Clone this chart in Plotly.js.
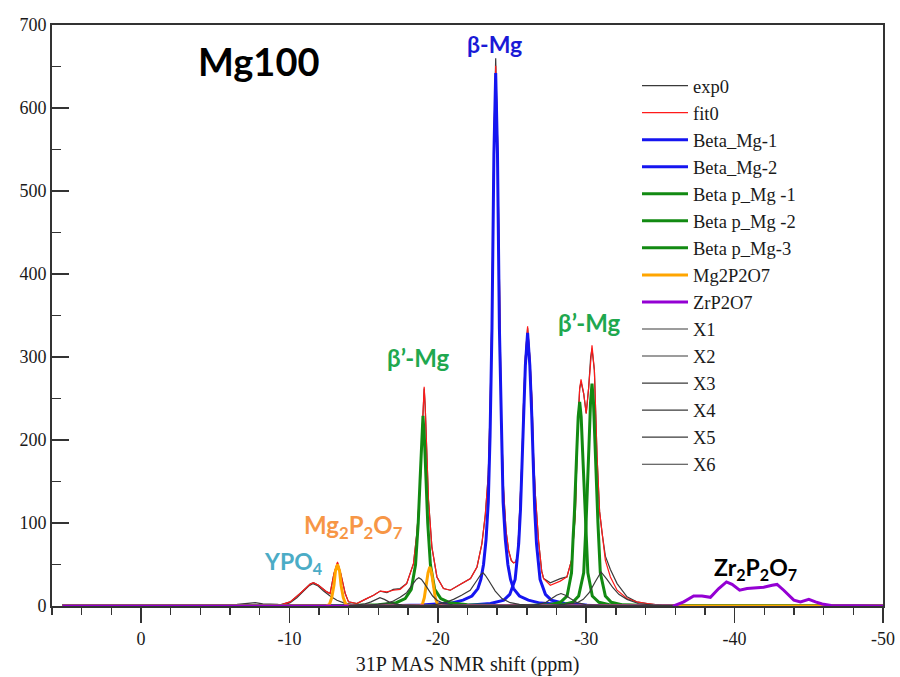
<!DOCTYPE html>
<html><head><meta charset="utf-8">
<script src="https://cdn.plot.ly/plotly-3.0.1.min.js"></script>
<style>html,body{margin:0;padding:0;background:#fff}</style>
</head><body><div id="chart" style="width:900px;height:677px"></div>
<script>
// ---- data: [ppm, intensity] pairs ----
const exp0Pts = [[5.3,0],[-6.3,0],[-6.5,2],[-7.0,2.5],[-7.4,3],[-7.7,4],[-8.2,2.5],[-8.8,2.5],[-9.2,2],[-9.37,1.5],[-10.05,5],[-10.72,15],[-11.4,26.5],[-11.62,28],[-11.96,25],[-12.52,17],[-12.74,15],[-13.0,39],[-13.24,52],[-13.46,39],[-13.76,15],[-13.98,5],[-14.54,3],[-15.1,8],[-15.67,13],[-16.12,18],[-16.57,16],[-17.0,20],[-17.46,21],[-17.9,27],[-18.36,51],[-18.59,88],[-18.81,144],[-18.92,200],[-19.0,232],[-19.08,262],[-19.15,240],[-19.22,196],[-19.37,128],[-19.6,71],[-19.94,35],[-20.38,21],[-20.84,19],[-21.5,26],[-22.2,33],[-22.64,47],[-22.97,75],[-23.2,110],[-23.4,158],[-23.52,235],[-23.65,355],[-23.78,560],[-23.9,660],[-24.02,565],[-24.15,355],[-24.28,225],[-24.43,140],[-24.6,90],[-24.77,67],[-24.95,55],[-25.1,52],[-25.25,53],[-25.38,61],[-25.57,125],[-25.67,175],[-25.77,240],[-25.9,300],[-26.05,335],[-26.2,300],[-26.35,245],[-26.45,180],[-26.57,135],[-26.79,78],[-27.0,42],[-27.13,33],[-27.58,28],[-28.25,33],[-28.7,35],[-29.04,57],[-29.27,112],[-29.42,212],[-29.56,262],[-29.65,270],[-29.83,256],[-30.0,232],[-30.16,262],[-30.3,300],[-30.39,310],[-30.55,284],[-30.73,180],[-30.9,114],[-31.07,88],[-31.29,60],[-31.63,44],[-32.08,27],[-32.75,11],[-33.4,5],[-34.1,3],[-34.8,1.5],[-35.5,0],[-50,0]];
const fit0Pts = [[5.3,0],[-9.0,0],[-9.37,1],[-10.05,5],[-10.72,15],[-11.4,26.5],[-11.62,28],[-11.96,25],[-12.52,17],[-12.74,15],[-13.0,39],[-13.24,53],[-13.46,39],[-13.76,15],[-13.98,5],[-14.54,3],[-15.1,8],[-15.67,13],[-16.12,18],[-16.57,17],[-17.0,19],[-17.46,20],[-17.9,27],[-18.36,51],[-18.59,88],[-18.81,144],[-18.92,200],[-19.0,232],[-19.08,264],[-19.15,240],[-19.22,196],[-19.37,128],[-19.6,71],[-19.94,35],[-20.38,21],[-20.84,19],[-21.5,26],[-22.2,33],[-22.64,47],[-22.97,75],[-23.2,110],[-23.4,158],[-23.52,235],[-23.65,355],[-23.78,560],[-23.9,651],[-24.02,565],[-24.15,355],[-24.28,225],[-24.43,140],[-24.6,90],[-24.77,67],[-24.95,55],[-25.1,52],[-25.25,53],[-25.38,61],[-25.57,125],[-25.67,175],[-25.77,240],[-25.9,300],[-26.05,337],[-26.2,300],[-26.35,245],[-26.45,180],[-26.57,135],[-26.79,78],[-27.0,42],[-27.13,33],[-27.58,25],[-28.25,30],[-28.7,35],[-29.04,57],[-29.27,112],[-29.42,212],[-29.56,262],[-29.65,273],[-29.83,256],[-30.0,232],[-30.16,262],[-30.3,300],[-30.39,314],[-30.55,284],[-30.73,180],[-30.9,114],[-31.07,88],[-31.29,55],[-31.63,35],[-32.08,19],[-32.75,9],[-33.4,5],[-34.1,3],[-34.8,1.5],[-35.5,0],[-50,0]];
const betaMg1Pts = [[5.3,0],[-16,0],[-18.9,1.2],[-20.9,3.5],[-21.7,7],[-22.3,12],[-22.7,21],[-22.9,32],[-23.08,50],[-23.25,80],[-23.4,125],[-23.52,205],[-23.65,335],[-23.78,545],[-23.9,642],[-24.02,545],[-24.15,335],[-24.28,205],[-24.4,125],[-24.55,80],[-24.72,50],[-24.9,32],[-25.1,21],[-25.5,12],[-26.1,7],[-26.9,3.5],[-28.9,1.2],[-32,0],[-50,0]];
const betaMg2Pts = [[5.3,0],[-19,0],[-22.05,1],[-23.55,3],[-24.45,7],[-24.85,14],[-25.21,32],[-25.45,75],[-25.57,116],[-25.66,165],[-25.77,230],[-25.9,290],[-26.05,329],[-26.2,290],[-26.33,230],[-26.44,165],[-26.53,116],[-26.65,75],[-26.89,32],[-27.25,14],[-27.65,7],[-28.55,3],[-30.05,1],[-33,0],[-50,0]];
const betaPMg1Pts = [[5.3,0],[-12,0],[-14,0.5],[-16,1.5],[-17.2,4],[-17.8,9],[-18.21,20],[-18.5,50],[-18.68,100],[-18.8,150],[-18.9,200],[-19.0,229],[-19.1,200],[-19.2,150],[-19.32,100],[-19.5,50],[-19.79,20],[-20.2,9],[-20.8,4],[-22,1.5],[-24,0.5],[-26,0],[-50,0]];
const betaPMg2Pts = [[5.3,0],[-24,0],[-26.06,0.5],[-27.56,1.5],[-28.26,4.5],[-28.71,12],[-29.01,40],[-29.11,80],[-29.2,110],[-29.36,185],[-29.46,228],[-29.56,246],[-29.66,228],[-29.76,185],[-29.92,110],[-30.01,80],[-30.11,40],[-30.41,12],[-30.86,4.5],[-31.56,1.5],[-33.06,0.5],[-35,0],[-50,0]];
const betaPMg3Pts = [[5.3,0],[-25,0],[-26.89,0.5],[-28.39,1.5],[-29.09,4.5],[-29.49,12],[-29.83,40],[-29.99,100],[-30.09,140],[-30.19,195],[-30.29,245],[-30.39,268],[-30.49,245],[-30.59,195],[-30.69,140],[-30.79,100],[-30.95,40],[-31.29,12],[-31.69,4.5],[-32.39,1.5],[-33.89,0.5],[-36,0],[-50,0]];
const mg2p2o7Pts = [[5.3,0],[-12.45,0],[-12.7,2],[-12.85,10],[-13.0,25],[-13.1,42],[-13.24,50],[-13.38,42],[-13.48,25],[-13.63,10],[-13.8,2],[-14.1,0],[-18.8,0],[-18.96,2],[-19.09,10],[-19.21,24],[-19.34,40],[-19.46,47],[-19.58,40],[-19.71,24],[-19.83,10],[-19.98,2],[-20.3,0],[-50,0]];
const zrp2o7Pts = [[5.3,0],[-35.9,0],[-36.57,5],[-37.24,12],[-37.8,12],[-38.37,10.5],[-38.93,21],[-39.45,29],[-39.83,26],[-40.34,19],[-40.84,21],[-41.96,22.5],[-42.53,25],[-42.86,26],[-43.31,19],[-43.99,7],[-44.44,5],[-45.0,8],[-45.45,5],[-45.9,2.4],[-46.5,0.5],[-50,0]];
const x1Pts = [[-9.2,0],[-9.6,1],[-10.05,4],[-10.5,10],[-10.9,17],[-11.3,24],[-11.6,27],[-11.9,24.5],[-12.3,18],[-12.74,12],[-13.2,7],[-13.7,3.5],[-14.5,1.5],[-15.5,0.5],[-16.5,0]];
const x2Pts = [[-14,0],[-14.6,1.2],[-15.1,2.5],[-15.5,5],[-15.8,8],[-16.1,10],[-16.4,8],[-16.7,5],[-17.1,2.5],[-17.6,1.2],[-18.6,0.5],[-20,0],[-35.8,0]];
const x3Pts = [[-14,0],[-15,0.5],[-16.5,3],[-17.0,6],[-17.46,10.5],[-17.9,16],[-18.3,26],[-18.55,32],[-18.72,34],[-18.9,32],[-19.1,27],[-19.37,19],[-19.65,12],[-19.94,7],[-20.4,3],[-21,1.5],[-22,0.5],[-23.5,0],[-35.8,0]];
const x4Pts = [[-14,0],[-19.5,0.5],[-20.5,4],[-21.06,8],[-21.6,13],[-22.18,19],[-22.64,31],[-22.9,38],[-23.05,40],[-23.2,37],[-23.42,31],[-23.87,18],[-24.32,9],[-24.88,4],[-25.5,2],[-26.5,0.5],[-28,0],[-35.8,0]];
const x5Pts = [[-14,0],[-25.5,0.3],[-26.8,2],[-27.3,4.5],[-27.6,8],[-28.0,13],[-28.3,15],[-28.6,13],[-28.93,9],[-29.4,4],[-30,1.5],[-31,0.5],[-32.5,0],[-35.8,0]];
const x6Pts = [[-14,0],[-27.5,0.5],[-28.5,2],[-29.4,4],[-29.8,8],[-30.2,16],[-30.6,29],[-31.0,41],[-31.4,32],[-31.8,22],[-32.2,14],[-32.75,8],[-33.5,3],[-34.5,1],[-35.8,0]];

const xTickVals = [0, -10, -20, -30, -40, -50];
const xTickText = ['0', '-10', '-20', '-30', '-40', '-50'];
const yTickVals = [0, 100, 200, 300, 400, 500, 600, 700];
const yTickText = ['0', '100', '200', '300', '400', '500', '600', '700'];

// ---- traces (draw order), legend order via legendrank ----
function tr(name, pts, color, width, rank) {
  return {type:'scatter', mode:'lines', name:name,
    x: pts.map(p=>p[0]), y: pts.map(p=>p[1]),
    line:{color:color, width:width}, legendrank:rank, hoverinfo:'skip'};
}
const traces = [
  tr('exp0', exp0Pts, '#3a3a3a', 1.2, 1),
  tr('X1', x1Pts, '#3a3a3a', 1.2, 10),
  tr('fit0', fit0Pts, '#ff1a1a', 1.2, 2),
  tr('Beta_Mg-1', betaMg1Pts, '#1515f0', 3, 3),
  tr('Beta_Mg-2', betaMg2Pts, '#1515f0', 3, 4),
  tr('Beta p_Mg -1', betaPMg1Pts, '#128a12', 3, 5),
  tr('Beta p_Mg -2', betaPMg2Pts, '#128a12', 3, 6),
  tr('Beta p_Mg-3', betaPMg3Pts, '#128a12', 3, 7),
  tr('Mg2P2O7', mg2p2o7Pts, '#ffa500', 3, 8),
  tr('ZrP2O7', zrp2o7Pts, '#9400d3', 3, 9),
  tr('X2', x2Pts, '#3a3a3a', 1.2, 11),
  tr('X3', x3Pts, '#3a3a3a', 1.2, 12),
  tr('X4', x4Pts, '#3a3a3a', 1.2, 13),
  tr('X5', x5Pts, '#3a3a3a', 1.2, 14),
  tr('X6', x6Pts, '#3a3a3a', 1.2, 15)
];

const W = 900, H = 677, L = 52, R = 17, T = 25, B = 71;
const pw = W - L - R, ph = H - T - B;
function px(xp){ return (xp - L) / pw; }
function py(yp){ return (H - B - yp) / ph; }
const boldFont = 'Lato, "Open Sans", sans-serif';
const serif = '"Liberation Serif", "DejaVu Serif", serif';
function ann(text, xp, yp, size, color){
  return {text:text, xref:'paper', yref:'paper', x:px(xp), y:py(yp), xanchor:'center', yanchor:'middle',
    showarrow:false, font:{family:boldFont, size:size, color:color, weight:700}};
}

const layout = {
  width: W, height: H,
  margin: {l:L, r:R, t:T, b:B},
  paper_bgcolor:'#fff', plot_bgcolor:'#fff',
  font: {family:serif, size:18, color:'#1a1a1a'},
  showlegend: true,
  legend: {x: px(637), y: py(67), xanchor:'left', yanchor:'top', bgcolor:'rgba(0,0,0,0)',
    font:{family:serif, size:18.5, color:'#1a1a1a'}, itemwidth:46, tracegroupgap:0},
  xaxis: {range:[6, -50], tickmode:'array', tickvals:xTickVals, ticktext:xTickText,
    ticks:'outside', ticklen:15, tickwidth:1.6, tickcolor:'#333',
    minor:{tickmode:'linear', tick0:0, dtick:2, ticks:'outside', ticklen:7, tickwidth:1.4, tickcolor:'#333', showgrid:false},
    showline:true, linecolor:'#333', linewidth:2, mirror:true, showgrid:false, zeroline:false,
    tickfont:{family:serif, size:18, color:'#1a1a1a'},
    title:{text:'31P MAS NMR shift (ppm)', standoff:9, font:{family:serif, size:20, color:'#1a1a1a'}}},
  yaxis: {range:[0, 700], tickmode:'array', tickvals:yTickVals, ticktext:yTickText,
    ticks:'inside', ticklen:17, tickwidth:1.6, tickcolor:'#333',
    minor:{tickmode:'linear', tick0:0, dtick:50, ticks:'inside', ticklen:9, tickwidth:1.4, tickcolor:'#333', showgrid:false},
    showline:true, linecolor:'#333', linewidth:2, mirror:true, showgrid:false, zeroline:false,
    tickfont:{family:serif, size:18, color:'#1a1a1a'}},
  annotations: [
    ann('Mg100', 258, 61, 38, '#000000'),
    ann('β-Mg', 494, 44, 23, '#1a1ad6'),
    ann('β’-Mg', 418, 357, 24, '#1fa84f'),
    ann('β’-Mg', 589, 322, 24, '#1fa84f'),
    ann('Mg<sub>2</sub>P<sub>2</sub>O<sub>7</sub>', 353, 526, 24, '#f79646'),
    ann('YPO<sub>4</sub>', 293, 562, 23, '#4bacc6'),
    ann('Zr<sub>2</sub>P<sub>2</sub>O<sub>7</sub>', 755, 568, 23, '#000000')
  ]
};

Plotly.newPlot('chart', traces, layout, {displayModeBar:false, staticPlot:true});
</script>
</body></html>
